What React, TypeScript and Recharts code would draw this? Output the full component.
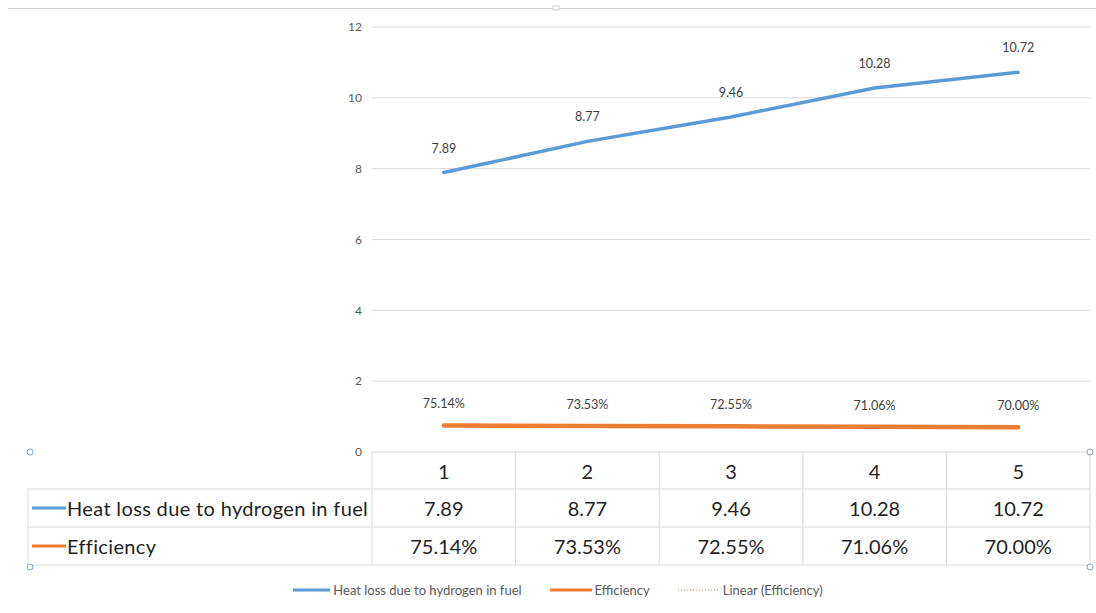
import { CartesianGrid, LabelList, Legend, Line, LineChart, XAxis, YAxis } from "recharts";

const categories = ["1", "2", "3", "4", "5"];
const heatLoss = [7.89, 8.77, 9.46, 10.28, 10.72];
const efficiency = [0.7514, 0.7353, 0.7255, 0.7106, 0.7];
// dotted "Linear (Efficiency)" trendline (sits under the efficiency line)
const efficiencyTrend = [0.749, 0.736, 0.724, 0.711, 0.699];
const yTicks = [0, 2, 4, 6, 8, 10, 12];

const BLUE = "#5B9BD5";
const ORANGE = "#ED7D31";
const GRID = "#d9d9d9";
const FONT = "Lato, 'Open Sans', sans-serif";

const data = categories.map((c, i) => ({
  cat: c,
  heat: heatLoss[i],
  eff: efficiency[i],
  trend: efficiencyTrend[i],
}));

const pct = (v: number) => `${(v * 100).toFixed(2)}%`;

// Data table under the plot, drawn one column per x tick.
function TableTick(props: any) {
  const { x, y, payload, index, width } = props;
  const colW = (width ?? 718) / categories.length;
  const rowH = [37, 38, 38];
  const r1 = y + rowH[0];
  const r2 = r1 + rowH[1];
  const r3 = r2 + rowH[2];
  const left = x - colW / 2;
  const right = x + colW / 2;
  const txt = { fontFamily: FONT, fontSize: 20, fill: "#1f1f1f", textAnchor: "middle" as const, dominantBaseline: "central" as const };
  return (
    <g>
      {index === 0 && (
        <g>
          <line x1={left} y1={y} x2={left} y2={r3} stroke={GRID} />
          <line x1={28} y1={r1} x2={28} y2={r3} stroke={GRID} />
          <line x1={28} y1={r1} x2={left} y2={r1} stroke={GRID} />
          <line x1={28} y1={r2} x2={left} y2={r2} stroke={GRID} />
          <line x1={28} y1={r3} x2={left} y2={r3} stroke={GRID} />
          <line x1={32} y1={(r1 + r2) / 2} x2={66} y2={(r1 + r2) / 2} stroke={BLUE} strokeWidth={3} />
          <line x1={32} y1={(r2 + r3) / 2} x2={66} y2={(r2 + r3) / 2} stroke={ORANGE} strokeWidth={3} />
          <text x={67} y={(r1 + r2) / 2} {...txt} textAnchor="start" letterSpacing={0.35}>
            Heat loss due to hydrogen in fuel
          </text>
          <text x={67} y={(r2 + r3) / 2} {...txt} textAnchor="start" letterSpacing={0.35}>
            Efficiency
          </text>
        </g>
      )}
      <line x1={right} y1={y} x2={right} y2={r3} stroke={GRID} />
      <line x1={left} y1={r1} x2={right} y2={r1} stroke={GRID} />
      <line x1={left} y1={r2} x2={right} y2={r2} stroke={GRID} />
      <line x1={left} y1={r3} x2={right} y2={r3} stroke={GRID} />
      <text x={x} y={y + rowH[0] / 2} {...txt}>
        {payload.value}
      </text>
      <text x={x} y={(r1 + r2) / 2} {...txt}>
        {heatLoss[index].toFixed(2)}
      </text>
      <text x={x} y={(r2 + r3) / 2} {...txt}>
        {pct(efficiency[index])}
      </text>
    </g>
  );
}

function ChartLegend() {
  const item = { display: "flex", alignItems: "center", gap: 3 };
  const label = { fontFamily: FONT, fontSize: 13, color: "#595959" };
  return (
    <div style={{ display: "flex", justifyContent: "center", alignItems: "center", gap: 28, height: 46, marginLeft: 26 }}>
      <div style={item}>
        <svg width={37} height={6}>
          <line x1={0} y1={3} x2={37} y2={3} stroke={BLUE} strokeWidth={3} />
        </svg>
        <span style={label}>Heat loss due to hydrogen in fuel</span>
      </div>
      <div style={item}>
        <svg width={42} height={6}>
          <line x1={0} y1={3} x2={42} y2={3} stroke={ORANGE} strokeWidth={3} />
        </svg>
        <span style={label}>Efficiency</span>
      </div>
      <div style={item}>
        <svg width={42} height={6}>
          <line x1={0} y1={3} x2={42} y2={3} stroke={ORANGE} strokeWidth={1} strokeDasharray="1 2" />
        </svg>
        <span style={label}>Linear (Efficiency)</span>
      </div>
    </div>
  );
}

export default function App() {
  return (
    <div style={{ position: "absolute", left: 0, top: 0, width: 1096, height: 613, background: "#fff" }}>
      <LineChart width={1096} height={613} data={data} margin={{ top: 27, right: 6, left: 0, bottom: 0 }}>
        <CartesianGrid horizontal vertical={false} stroke={GRID} />
        <YAxis
          width={372}
          domain={[0, 12]}
          ticks={yTicks}
          axisLine={false}
          tickLine={false}
          tickMargin={4}
          tick={{ fill: "#595959", fontSize: 12, fontFamily: FONT }}
        />
        <XAxis
          dataKey="cat"
          scale="band"
          height={115}
          axisLine={false}
          tickLine={false}
          tickSize={0}
          tickMargin={0}
          interval={0}
          tick={<TableTick />}
        />
        <Legend verticalAlign="bottom" height={46} content={<ChartLegend />} />
        <Line
          dataKey="trend"
          stroke={ORANGE}
          strokeWidth={1.5}
          strokeDasharray="1.5 2"
          dot={false}
          isAnimationActive={false}
          legendType="none"
        />
        <Line dataKey="heat" stroke={BLUE} strokeWidth={3.5} strokeLinecap="round" dot={false} isAnimationActive={false}>
          <LabelList dataKey="heat" position="top" offset={20} fill="#404040" fontSize={12.5} fontFamily={FONT} />
        </Line>
        <Line dataKey="eff" stroke={ORANGE} strokeWidth={4.5} strokeLinecap="round" dot={false} isAnimationActive={false}>
          <LabelList
            dataKey="eff"
            position="top"
            offset={17}
            fill="#404040"
            fontSize={12.5}
            fontFamily={FONT}
            formatter={(v: any) => pct(Number(v))}
          />
        </Line>
      </LineChart>
      <svg width={1096} height={613} style={{ position: "absolute", left: 0, top: 0, pointerEvents: "none" }}>
        <line x1={8} y1={8.5} x2={1096} y2={8.5} stroke="#cfcfcf" />
        <rect x={553} y={6} width={6} height={4} fill="#fff" stroke="#cfcfcf" />
        {[
          [30, 452],
          [1090, 452],
          [30, 567],
          [1090, 567],
        ].map(([cx, cy]) => (
          <circle key={`${cx}-${cy}`} cx={cx} cy={cy} r={3} fill="#fff" stroke="#7aa6d6" strokeWidth={1} />
        ))}
      </svg>
    </div>
  );
}
